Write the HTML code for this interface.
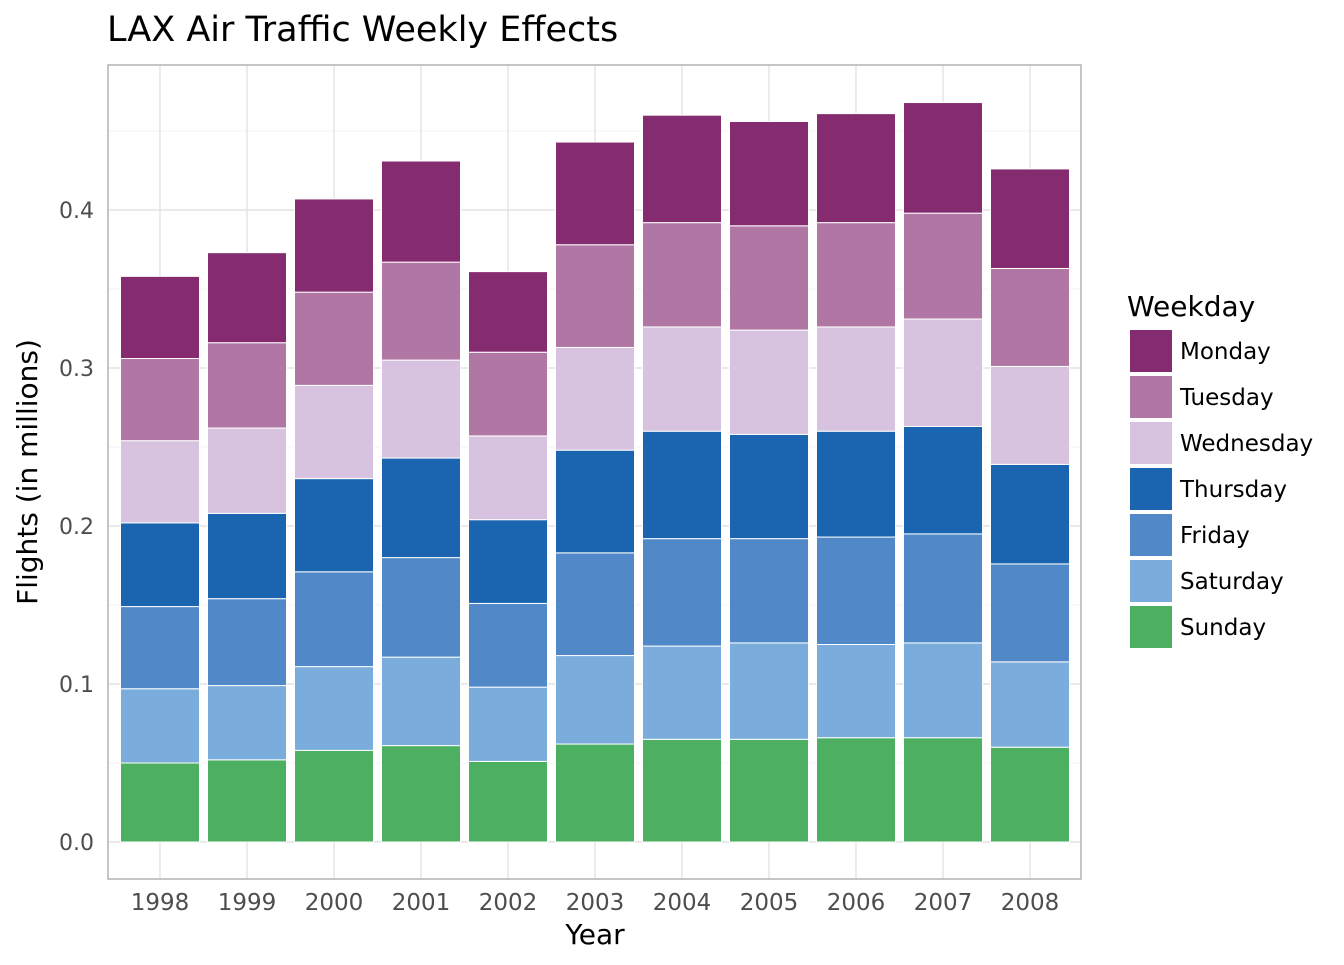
<!DOCTYPE html>
<html><head><meta charset="utf-8"><style>
body{margin:0;background:#fff;font-family:"Liberation Sans","DejaVu Sans",sans-serif;}
svg text{font-family:"DejaVu Sans","Liberation Sans",sans-serif;}
</style></head><body>
<svg id="chart" width="1344" height="960" xmlns="http://www.w3.org/2000/svg">
<text x="107" y="41" font-size="35" fill="#000">LAX Air Traffic Weekly Effects</text>
<g id="grid"></g><g id="bars"></g><g id="axes"></g><g id="legend"></g>
</svg>
<script>
const years = ["1998","1999","2000","2001","2002","2003","2004","2005","2006","2007","2008"];
const seriesNames = ["Sunday","Saturday","Friday","Thursday","Wednesday","Tuesday","Monday"];
const sunday    = [0.050,0.052,0.058,0.061,0.051,0.062,0.065,0.065,0.066,0.066,0.060];
const saturday  = [0.047,0.047,0.053,0.056,0.047,0.056,0.059,0.061,0.059,0.060,0.054];
const friday    = [0.052,0.055,0.060,0.063,0.053,0.065,0.068,0.066,0.068,0.069,0.062];
const thursday  = [0.053,0.054,0.059,0.063,0.053,0.065,0.068,0.066,0.067,0.068,0.063];
const wednesday = [0.052,0.054,0.059,0.062,0.053,0.065,0.066,0.066,0.066,0.068,0.062];
const tuesday   = [0.052,0.054,0.059,0.062,0.053,0.065,0.066,0.066,0.066,0.067,0.062];
const monday    = [0.052,0.057,0.059,0.064,0.051,0.065,0.068,0.066,0.069,0.070,0.063];
const yTicks = [0, 0.1, 0.2, 0.3, 0.4];
const yTickLabels = ["0.0","0.1","0.2","0.3","0.4"];
const legendOrder = ["Monday","Tuesday","Wednesday","Thursday","Friday","Saturday","Sunday"];

const values = [sunday,saturday,friday,thursday,wednesday,tuesday,monday];
const colors = {Monday:"#852b6f",Tuesday:"#b077a5",Wednesday:"#d7c3df",Thursday:"#1a64b0",Friday:"#5189c8",Saturday:"#7aaddc",Sunday:"#4daf62"};
const NS="http://www.w3.org/2000/svg";
const P={l:108,r:1081,t:65,b:879};
const y0=842, pxPerUnit=1580;
const yS=v=>y0-v*pxPerUnit;
const step=87, x0=160, bw=79;
const xS=i=>x0+i*step;
function mk(tag,attrs,parent){const e=document.createElementNS(NS,tag);for(const k in attrs)e.setAttribute(k,attrs[k]);parent.appendChild(e);return e;}
const grid=document.getElementById('grid'),bars=document.getElementById('bars'),axes=document.getElementById('axes'),legend=document.getElementById('legend');
mk('rect',{x:P.l,y:P.t,width:P.r-P.l,height:P.b-P.t,fill:"#fff"},grid);
for(let i=0;i<yTicks.length;i++){
  const y=yS(yTicks[i]);
  const l=mk('line',{x1:P.l,x2:P.r,y1:y,y2:y,stroke:"#dedede","stroke-width":1.2},grid);
  
  
  const ym=yS(yTicks[i]+0.05);
  if(ym>P.t){const m=mk('line',{x1:P.l,x2:P.r,y1:ym,y2:ym,stroke:"#efefef","stroke-width":0.8},grid);
  
  }
  const t=mk('text',{x:94,y:y+8,"text-anchor":"end","font-size":22,fill:"#4d4d4d"},axes);
  t.textContent=yTickLabels[i];
  
  
}
years.forEach((yr,i)=>{
  const x=xS(i);
  const l=mk('line',{x1:x,x2:x,y1:P.t,y2:P.b,stroke:"#dedede","stroke-width":1.2},grid);
  
  
  const t=mk('text',{x:x,y:910,"text-anchor":"middle","font-size":23,fill:"#4d4d4d"},axes);
  t.textContent=yr;
  
  
  let cum=0;
  values.forEach((arr,s)=>{
    const v=arr[i];
    const r=mk('rect',{x:x-bw/2,y:yS(cum+v),width:bw,height:v*pxPerUnit,fill:colors[seriesNames[s]],stroke:"#fff","stroke-width":1},bars);
    
    
    cum+=v;
  });
});
mk('rect',{x:P.l,y:P.t,width:P.r-P.l,height:P.b-P.t,fill:"none",stroke:"#b3b3b3","stroke-width":1.5},axes);
const xt=mk('text',{x:595,y:944,"text-anchor":"middle","font-size":28,fill:"#000"},axes);xt.textContent="Year";


const yt=mk('text',{x:0,y:0,"text-anchor":"middle","font-size":28,fill:"#000",transform:"translate(37,472) rotate(-90)"},axes);yt.textContent="Flights (in millions)";


const lt=mk('text',{x:1127,y:316,"font-size":28,fill:"#000"},legend);lt.textContent="Weekday";


legendOrder.forEach((n,k)=>{
  const y=330+k*46;
  const g=mk('g',{},legend);
  
  
  mk('rect',{x:1130,y:y,width:42,height:42,fill:colors[n]},g);
  const t=mk('text',{x:1180,y:y+29,"font-size":23,fill:"#000"},g);t.textContent=n;
});
</script>
</body></html>
